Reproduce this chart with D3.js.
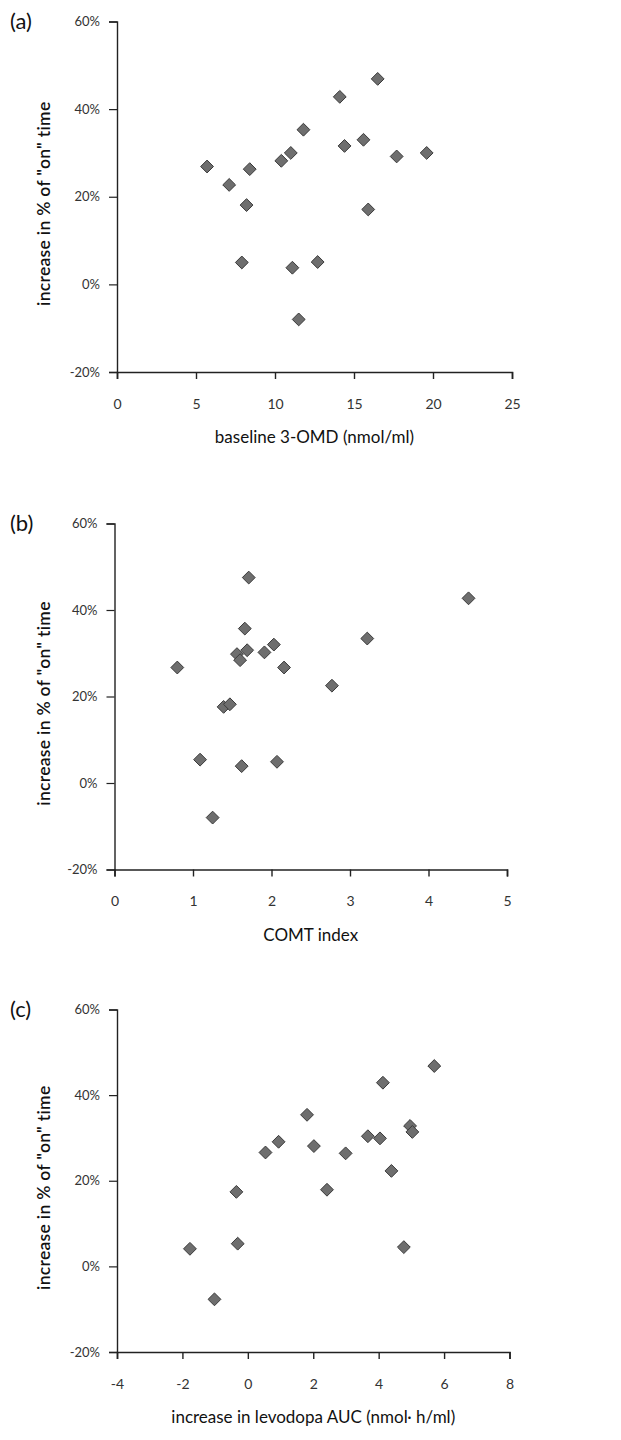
<!DOCTYPE html>
<html>
<head>
<meta charset="utf-8">
<script src="https://cdn.jsdelivr.net/npm/d3@7"></script>
<style>
  body { margin: 0; background: #fff; }
  text { font-family: Lato, "Open Sans", sans-serif; }
</style>
</head>
<body>
<script>
// y values shared scale: increase in % of "on" time
const yTicks = [-0.2, 0, 0.2, 0.4, 0.6]

// (a) baseline 3-OMD
const omdX = [5.7, 7.1, 8.4, 10.4, 11.0, 11.8, 14.1, 14.4, 15.6, 16.5, 17.7, 19.6, 8.2, 15.9, 7.9, 11.1, 12.7, 11.5]
const omdY = [0.269, 0.227, 0.263, 0.282, 0.300, 0.353, 0.428, 0.316, 0.330, 0.469, 0.292, 0.300, 0.181, 0.171, 0.050, 0.038, 0.051, -0.080]
const omdTicks = [0, 5, 10, 15, 20, 25]

// (b) COMT index
const comtX = [1.71, 4.51, 1.66, 3.22, 0.80, 1.56, 1.60, 1.69, 1.91, 2.03, 2.16, 2.77, 1.39, 1.47, 1.09, 1.62, 2.07, 1.25]
const comtY = [0.475, 0.427, 0.357, 0.334, 0.267, 0.298, 0.284, 0.307, 0.302, 0.320, 0.267, 0.225, 0.176, 0.182, 0.054, 0.039, 0.049, -0.080]
const comtTicks = [0, 1, 2, 3, 4, 5]

// (c) increase in levodopa AUC
const aucX = [5.70, 4.13, 1.81, 4.96, 5.03, 3.67, 4.04, 0.54, 0.94, 2.02, 2.99, 4.39, -0.35, 2.42, -1.77, -0.31, 4.77, -1.02]
const aucY = [0.468, 0.429, 0.354, 0.328, 0.314, 0.304, 0.299, 0.266, 0.291, 0.281, 0.264, 0.223, 0.174, 0.179, 0.041, 0.053, 0.045, -0.077]
const aucTicks = [-4, -2, 0, 2, 4, 6, 8]

const svg = d3.select('body').append('svg')
    .attr('width', 621)
    .attr('height', 1440)

// plain hyphen for negatives, like the original
const pct = d => Math.round(d * 100) + '%'
const num = d => String(d)

function panel(opts) {
    const x = d3.scaleLinear()
        .domain(d3.extent(opts.ticks))
        .range([opts.left, opts.right])
    const y = d3.scaleLinear()
        .domain([-0.2, 0.6])
        .range([opts.bottom, opts.top])

    const g = svg.append('g')

    const xAxis = g.append('g')
        .attr('transform', `translate(0, ${opts.bottom})`)
        .call(d3.axisBottom(x).tickValues(opts.ticks).tickSize(7).tickPadding(20).tickFormat(num))
    xAxis.select('.domain').attr('stroke', '#222').attr('stroke-width', 1.6)
    xAxis.selectAll('.tick line').attr('stroke', '#222').attr('stroke-width', 1.4)
    xAxis.selectAll('.tick text')
        .style('font-size', '14px')
        .attr('fill', '#333')

    const yAxis = g.append('g')
        .attr('transform', `translate(${opts.left}, 0)`)
        .call(d3.axisLeft(y).tickValues(yTicks).tickSize(8).tickPadding(9).tickFormat(pct))
    yAxis.select('.domain').attr('stroke', '#222').attr('stroke-width', 1.4)
    yAxis.selectAll('.tick line').attr('stroke', '#222').attr('stroke-width', 1.2)
    yAxis.selectAll('.tick text')
        .style('font-size', '13px')
        .attr('fill', '#333')

    g.selectAll('.pt')
        .data(opts.xs.map((d, i) => [d, opts.ys[i]]))
        .enter().append('path')
        .attr('class', 'pt')
        .attr('d', d3.symbol(d3.symbolDiamond2, 105))
        .attr('transform', d => `translate(${x(d[0])}, ${y(d[1])})`)
        .attr('fill', '#6e6e6e')
        .attr('stroke', '#3a3a3a')
        .attr('stroke-width', 1)

    g.append('text')
        .attr('x', (opts.left + opts.right) / 2)
        .attr('y', opts.bottom + 71)
        .style('text-anchor', 'middle')
        .style('font-size', '17px')
        .attr('fill', '#111')
        .text(opts.xLabel)

    g.append('text')
        .attr('transform', `translate(50, ${(opts.top + opts.bottom) / 2 + 7}) rotate(-90)`)
        .style('text-anchor', 'middle')
        .style('font-size', '17.5px')
        .style('font-weight', 600)
        .style('letter-spacing', '0.3px')
        .attr('fill', '#111')
        .text('increase in % of "on" time')

    g.append('text')
        .attr('x', 10)
        .attr('y', opts.top + 7)
        .style('font-size', '22px')
        .attr('fill', '#111')
        .text(opts.name)
}

panel({ name: '(a)', xs: omdX, ys: omdY, ticks: omdTicks, left: 117, right: 512, top: 21.5, bottom: 372, xLabel: 'baseline 3-OMD (nmol/ml)' })
panel({ name: '(b)', xs: comtX, ys: comtY, ticks: comtTicks, left: 114.5, right: 507, top: 523.5, bottom: 869.5, xLabel: 'COMT index' })
panel({ name: '(c)', xs: aucX, ys: aucY, ticks: aucTicks, left: 117, right: 509.5, top: 1009.5, bottom: 1352, xLabel: 'increase in levodopa AUC (nmol· h/ml)' })
</script>
</body>
</html>
